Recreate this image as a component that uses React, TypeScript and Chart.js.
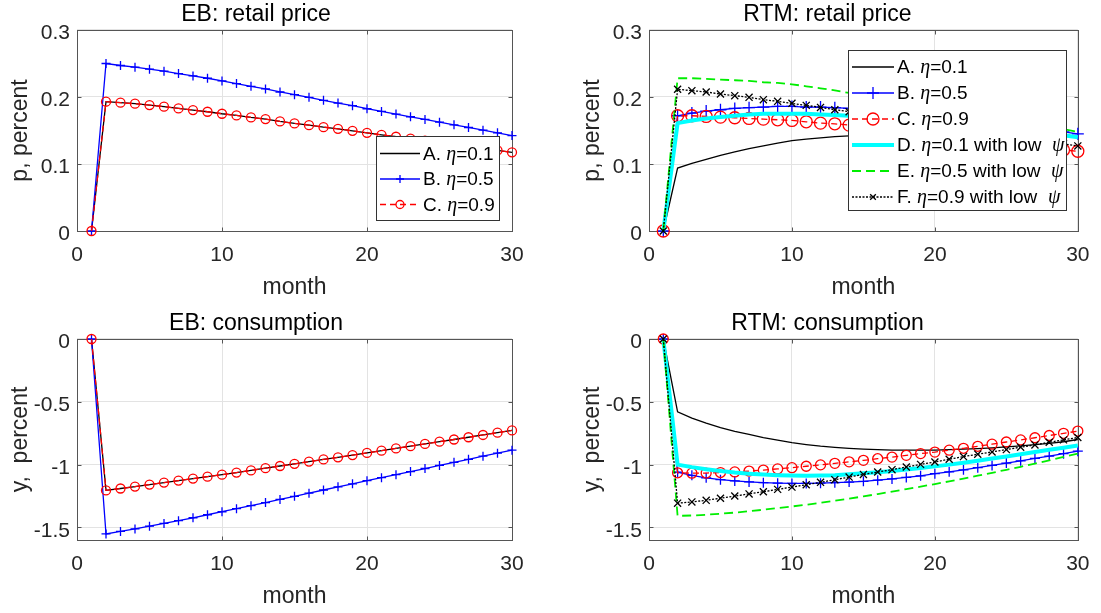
import React, { useEffect, useRef } from "react";
import { Chart, registerables } from "chart.js";

Chart.register(...registerables);

const FONT = "'Liberation Sans', Arial, Helvetica, sans-serif";
const SERIF = "'Liberation Serif', 'Times New Roman', serif";

// ---------------- data ----------------
const months = [1, 2, 3, 4, 5, 6, 7, 8, 9, 10, 11, 12, 13, 14, 15, 16, 17, 18, 19, 20, 21, 22, 23, 24, 25, 26, 27, 28, 29, 30];
const xTicks = [0, 10, 20, 30];
const priceTicks = [0, 0.1, 0.2, 0.3];
const consTicks = [-1.5, -1, -0.5, 0];

const ebLegend = ["A. η=0.1", "B. η=0.5", "C. η=0.9"];
const rtmLegend = [
  "A. η=0.1",
  "B. η=0.5",
  "C. η=0.9",
  "D. η=0.1 with low  ψ",
  "E. η=0.5 with low  ψ",
  "F. η=0.9 with low  ψ",
];

// EB: retail price
const ebPriceA = [0, 0.193, 0.1915, 0.19, 0.188, 0.1855, 0.183, 0.1805, 0.178, 0.175, 0.1725, 0.1695, 0.167, 0.1635, 0.1605, 0.158, 0.155, 0.1525, 0.1495, 0.1465, 0.1436, 0.1407, 0.1378, 0.1349, 0.132, 0.1291, 0.1262, 0.1233, 0.1204, 0.1175];
const ebPriceB = [0, 0.25, 0.247, 0.2445, 0.2415, 0.2385, 0.235, 0.2315, 0.228, 0.224, 0.22, 0.216, 0.212, 0.2075, 0.2035, 0.1995, 0.195, 0.191, 0.187, 0.1825, 0.1785, 0.1745, 0.1705, 0.1665, 0.1625, 0.1585, 0.1545, 0.1505, 0.1465, 0.1425];
const ebPriceC = [0, 0.193, 0.1915, 0.19, 0.188, 0.1855, 0.183, 0.1805, 0.178, 0.175, 0.1725, 0.1695, 0.167, 0.1635, 0.1605, 0.158, 0.155, 0.1525, 0.1495, 0.1465, 0.1436, 0.1407, 0.1378, 0.1349, 0.132, 0.1291, 0.1262, 0.1233, 0.1204, 0.1175];

// RTM: retail price
const rtmPriceA = [0, 0.094, 0.101, 0.107, 0.113, 0.118, 0.123, 0.127, 0.131, 0.135, 0.137, 0.139, 0.141, 0.142, 0.143, 0.144, 0.145, 0.145, 0.146, 0.146, 0.146, 0.146, 0.146, 0.145, 0.145, 0.144, 0.144, 0.143, 0.142, 0.141];
const rtmPriceB = [0, 0.172, 0.176, 0.179, 0.181, 0.183, 0.184, 0.185, 0.186, 0.186, 0.185, 0.185, 0.184, 0.183, 0.181, 0.18, 0.178, 0.176, 0.174, 0.172, 0.17, 0.167, 0.165, 0.162, 0.159, 0.157, 0.154, 0.151, 0.148, 0.145];
const rtmPriceC = [0, 0.172, 0.172, 0.171, 0.17, 0.169, 0.168, 0.167, 0.166, 0.165, 0.163, 0.161, 0.16, 0.158, 0.156, 0.153, 0.151, 0.148, 0.146, 0.143, 0.141, 0.138, 0.136, 0.133, 0.131, 0.128, 0.126, 0.124, 0.121, 0.119];
const rtmPriceD = [0, 0.161, 0.165, 0.168, 0.17, 0.172, 0.174, 0.175, 0.175, 0.175, 0.175, 0.174, 0.173, 0.172, 0.17, 0.169, 0.167, 0.166, 0.164, 0.162, 0.16, 0.158, 0.156, 0.154, 0.152, 0.15, 0.148, 0.146, 0.143, 0.14];
const rtmPriceE = [0, 0.228, 0.228, 0.227, 0.226, 0.225, 0.224, 0.222, 0.221, 0.219, 0.216, 0.213, 0.21, 0.206, 0.203, 0.2, 0.197, 0.194, 0.191, 0.188, 0.184, 0.181, 0.177, 0.173, 0.169, 0.165, 0.161, 0.157, 0.152, 0.148];
const rtmPriceF = [0, 0.2115, 0.2095, 0.2075, 0.2045, 0.202, 0.1995, 0.196, 0.1935, 0.1905, 0.1875, 0.1845, 0.181, 0.178, 0.175, 0.172, 0.168, 0.165, 0.162, 0.159, 0.155, 0.152, 0.149, 0.146, 0.143, 0.14, 0.137, 0.134, 0.13, 0.127];

// EB: consumption
const ebConsA = [0, -1.205, -1.19, -1.175, -1.159, -1.143, -1.127, -1.111, -1.096, -1.08, -1.063, -1.046, -1.028, -1.011, -0.994, -0.976, -0.959, -0.942, -0.924, -0.907, -0.889, -0.871, -0.853, -0.835, -0.817, -0.8, -0.782, -0.764, -0.746, -0.728];
const ebConsB = [0, -1.552, -1.532, -1.512, -1.49, -1.468, -1.446, -1.423, -1.399, -1.375, -1.351, -1.327, -1.302, -1.277, -1.252, -1.227, -1.202, -1.177, -1.153, -1.128, -1.104, -1.08, -1.055, -1.031, -1.006, -0.982, -0.958, -0.933, -0.909, -0.885];
const ebConsC = [0, -1.205, -1.19, -1.175, -1.159, -1.143, -1.127, -1.111, -1.096, -1.08, -1.063, -1.046, -1.028, -1.011, -0.994, -0.976, -0.959, -0.942, -0.924, -0.907, -0.889, -0.871, -0.853, -0.835, -0.817, -0.8, -0.782, -0.764, -0.746, -0.728];

// RTM: consumption
const rtmConsA = [0, -0.58, -0.63, -0.67, -0.705, -0.735, -0.76, -0.785, -0.805, -0.825, -0.84, -0.853, -0.863, -0.871, -0.877, -0.881, -0.884, -0.885, -0.885, -0.884, -0.881, -0.877, -0.872, -0.866, -0.858, -0.85, -0.841, -0.831, -0.818, -0.8];
const rtmConsB = [0, -1.06, -1.085, -1.105, -1.12, -1.13, -1.138, -1.144, -1.148, -1.15, -1.15, -1.148, -1.144, -1.139, -1.133, -1.124, -1.114, -1.102, -1.089, -1.072, -1.057, -1.041, -1.024, -1.006, -0.988, -0.97, -0.951, -0.932, -0.913, -0.893];
const rtmConsC = [0, -1.065, -1.068, -1.067, -1.063, -1.058, -1.051, -1.043, -1.034, -1.024, -1.013, -1.002, -0.99, -0.978, -0.966, -0.953, -0.94, -0.926, -0.912, -0.9, -0.885, -0.87, -0.854, -0.837, -0.82, -0.803, -0.786, -0.768, -0.751, -0.733];
const rtmConsD = [0, -1.0, -1.02, -1.037, -1.051, -1.063, -1.072, -1.079, -1.084, -1.087, -1.088, -1.087, -1.084, -1.077, -1.069, -1.06, -1.05, -1.039, -1.027, -1.014, -1.0, -0.985, -0.969, -0.952, -0.935, -0.918, -0.9, -0.882, -0.865, -0.848];
const rtmConsE = [0, -1.408, -1.405, -1.399, -1.391, -1.382, -1.371, -1.359, -1.346, -1.333, -1.319, -1.304, -1.288, -1.271, -1.253, -1.234, -1.215, -1.195, -1.175, -1.155, -1.133, -1.111, -1.088, -1.065, -1.041, -1.017, -0.992, -0.966, -0.939, -0.912];
const rtmConsF = [0, -1.307, -1.297, -1.284, -1.268, -1.25, -1.233, -1.216, -1.197, -1.179, -1.16, -1.141, -1.12, -1.099, -1.078, -1.059, -1.04, -1.019, -0.998, -0.979, -0.957, -0.936, -0.917, -0.899, -0.88, -0.861, -0.843, -0.822, -0.803, -0.784];

// ---------------- styles ----------------
type MarkerKind = "none" | "cross" | "circle" | "crossRot";
interface SeriesStyle {
  color: string;
  width: number;
  dash: number[];
  marker: MarkerKind;
}

const styleA: SeriesStyle = { color: "#000000", width: 1.3, dash: [], marker: "none" };
const styleB: SeriesStyle = { color: "#0000ff", width: 1.3, dash: [], marker: "cross" };
const styleC: SeriesStyle = { color: "#ff0000", width: 1.3, dash: [6, 4], marker: "circle" };
const styleD: SeriesStyle = { color: "#00ffff", width: 4, dash: [], marker: "none" };
const styleE: SeriesStyle = { color: "#00ee00", width: 1.8, dash: [9, 5], marker: "none" };
const styleF: SeriesStyle = { color: "#000000", width: 1.3, dash: [2, 1.5], marker: "crossRot" };

const AXIS_COLOR = "#555555";
const GRID_COLOR = "#e3e3e3";
const TEXT_COLOR = "#262626";
const MARKER_LW = 1.3;

interface LegendSpec {
  labels: string[];
  w: number;
  h: number;
  right: number;
  top?: number;
  bottom?: number;
  sx0: number;
  sx1: number;
  tx: number;
  first: number;
  step: number;
  radii: number[];
}

interface PanelSpec {
  left: number;
  top: number;
  w: number;
  h: number;
  padRight: number;
  title: string;
  yTitle: string;
  yMin: number;
  yMax: number;
  yTicks: number[];
  series: number[][];
  styles: SeriesStyle[];
  radii: number[];
  legend?: LegendSpec;
}

function drawMarker(ctx: CanvasRenderingContext2D, kind: MarkerKind, x: number, y: number, r: number, color: string) {
  if (kind === "none" || r <= 0) return;
  ctx.save();
  ctx.setLineDash([]);
  ctx.strokeStyle = color;
  ctx.lineWidth = MARKER_LW;
  ctx.beginPath();
  if (kind === "cross") {
    ctx.moveTo(x - r, y);
    ctx.lineTo(x + r, y);
    ctx.moveTo(x, y - r);
    ctx.lineTo(x, y + r);
  } else if (kind === "crossRot") {
    const d = r * Math.SQRT1_2;
    ctx.moveTo(x - d, y - d);
    ctx.lineTo(x + d, y + d);
    ctx.moveTo(x - d, y + d);
    ctx.lineTo(x + d, y - d);
  } else {
    ctx.arc(x, y, r, 0, Math.PI * 2);
  }
  ctx.stroke();
  ctx.restore();
}

function drawRichText(ctx: CanvasRenderingContext2D, text: string, x: number, y: number, size: number) {
  const runs: { t: string; greek: boolean }[] = [];
  for (const ch of Array.from(text)) {
    const greek = ch === "η" || ch === "ψ";
    const last = runs[runs.length - 1];
    if (last && last.greek === greek) last.t += ch;
    else runs.push({ t: ch, greek });
  }
  let cx = x;
  for (const run of runs) {
    ctx.font = run.greek ? `italic ${size + 1}px ${SERIF}` : `${size}px ${FONT}`;
    ctx.fillText(run.t, cx, y);
    cx += ctx.measureText(run.t).width;
  }
}

const boxPlugin = {
  id: "matlabBox",
  beforeDatasetsDraw(chart: any) {
    const { ctx, chartArea: a, scales } = chart;
    const L = Math.round(a.left) + 0.5;
    const R = Math.round(a.right) + 0.5;
    const T = Math.round(a.top) + 0.5;
    const B = Math.round(a.bottom) + 0.5;
    ctx.save();
    ctx.strokeStyle = AXIS_COLOR;
    ctx.lineWidth = 1;
    ctx.setLineDash([]);
    ctx.strokeRect(L, T, R - L, B - T);
    const tl = 4;
    ctx.beginPath();
    for (const v of xTicks) {
      const px = Math.round(scales.x.getPixelForValue(v)) + 0.5;
      ctx.moveTo(px, B);
      ctx.lineTo(px, B - tl);
      ctx.moveTo(px, T);
      ctx.lineTo(px, T + tl);
    }
    const yt: number[] = chart.options.plugins.matlabBox?.yTicks || [];
    for (const v of yt) {
      const py = Math.round(scales.y.getPixelForValue(v)) + 0.5;
      ctx.moveTo(L, py);
      ctx.lineTo(L + tl, py);
      ctx.moveTo(R, py);
      ctx.lineTo(R - tl, py);
    }
    ctx.stroke();
    ctx.restore();
  },
};

function makeLegendPlugin(spec: PanelSpec) {
  return {
    id: "matlabLegend",
    afterDatasetsDraw(chart: any) {
      const lg = spec.legend;
      if (!lg) return;
      const { ctx, chartArea: a } = chart;
      const x0 = Math.round(a.right - lg.right - lg.w);
      const y0 = lg.top !== undefined ? Math.round(a.top + lg.top) : Math.round(a.bottom - (lg.bottom || 0) - lg.h);
      ctx.save();
      ctx.fillStyle = "#ffffff";
      ctx.fillRect(x0, y0, lg.w, lg.h);
      ctx.strokeStyle = "#333333";
      ctx.lineWidth = 1;
      ctx.setLineDash([]);
      ctx.strokeRect(x0 + 0.5, y0 + 0.5, lg.w - 1, lg.h - 1);
      lg.labels.forEach((label, i) => {
        const st = spec.styles[i];
        const cy = y0 + lg.first + i * lg.step;
        ctx.save();
        ctx.strokeStyle = st.color;
        ctx.lineWidth = st.width;
        ctx.setLineDash(st.dash);
        ctx.beginPath();
        ctx.moveTo(x0 + lg.sx0, cy);
        ctx.lineTo(x0 + lg.sx1, cy);
        ctx.stroke();
        ctx.restore();
        drawMarker(ctx, st.marker, x0 + (lg.sx0 + lg.sx1) / 2, cy, lg.radii[i], st.color);
        ctx.fillStyle = "#000000";
        ctx.textBaseline = "middle";
        ctx.textAlign = "left";
        drawRichText(ctx, label, x0 + lg.tx, cy + 1, 19);
      });
      ctx.restore();
    },
  };
}

function buildConfig(spec: PanelSpec): any {
  const n = spec.series.length;
  const datasets = spec.series.map((vals, i) => {
    const st = spec.styles[i];
    const r = st.marker === "none" ? 0 : spec.radii[i];
    return {
      label: spec.legend ? spec.legend.labels[i] : String(i),
      data: months.map((m, k) => ({ x: m, y: vals[k] })),
      borderColor: st.color,
      backgroundColor: st.color,
      borderWidth: st.width,
      borderDash: st.dash,
      pointStyle: st.marker === "none" ? "circle" : st.marker,
      pointRadius: r,
      pointHoverRadius: r,
      pointBorderColor: st.color,
      pointBackgroundColor: "rgba(0,0,0,0)",
      pointBorderWidth: MARKER_LW,
      tension: 0,
      fill: false,
      clip: false,
      order: n - i,
    };
  });
  return {
    type: "line",
    data: { datasets },
    options: {
      responsive: false,
      animation: false,
      devicePixelRatio: 1,
      events: [],
      layout: { padding: { left: 0, right: spec.padRight, top: 0, bottom: 0 } },
      plugins: {
        legend: { display: false },
        tooltip: { enabled: false },
        matlabBox: { yTicks: spec.yTicks },
        title: {
          display: true,
          text: spec.title,
          color: "#000000",
          font: { family: FONT, size: 23, weight: "normal", lineHeight: 1.2 },
          padding: { top: 1, bottom: 1.4 },
        },
      },
      scales: {
        x: {
          type: "linear",
          min: 0,
          max: 30,
          afterBuildTicks: (s: any) => {
            s.ticks = xTicks.map((v) => ({ value: v }));
          },
          afterFit: (s: any) => {
            s.height = 73;
          },
          ticks: {
            callback: (v: any) => String(v),
            font: { family: FONT, size: 21 },
            color: TEXT_COLOR,
            padding: 11.5,
            maxRotation: 0,
            autoSkip: false,
          },
          grid: { color: GRID_COLOR, drawTicks: false, lineWidth: 1 },
          border: { display: false },
          title: {
            display: true,
            text: "month",
            color: TEXT_COLOR,
            font: { family: FONT, size: 23, lineHeight: 1.2 },
            padding: { top: 0, bottom: 2.5 },
          },
        },
        y: {
          type: "linear",
          min: spec.yMin,
          max: spec.yMax,
          afterBuildTicks: (s: any) => {
            s.ticks = spec.yTicks.map((v) => ({ value: v }));
          },
          afterFit: (s: any) => {
            s.width = 77;
          },
          ticks: {
            callback: (v: any) => String(v),
            font: { family: FONT, size: 21 },
            color: TEXT_COLOR,
            padding: 7,
            labelOffset: 3.5,
            autoSkip: false,
          },
          grid: { color: GRID_COLOR, drawTicks: false, lineWidth: 1 },
          border: { display: false },
          title: {
            display: true,
            text: spec.yTitle,
            color: TEXT_COLOR,
            font: { family: FONT, size: 23, lineHeight: 1.2 },
            padding: { top: 6.7, bottom: 0 },
          },
        },
      },
    },
    plugins: [boxPlugin, makeLegendPlugin(spec)],
  };
}

const panels: PanelSpec[] = [
  {
    left: 0,
    top: 0,
    w: 550,
    h: 304,
    padRight: 38,
    title: "EB: retail price",
    yTitle: "p, percent",
    yMin: 0,
    yMax: 0.3,
    yTicks: priceTicks,
    series: [ebPriceA, ebPriceB, ebPriceC],
    styles: [styleA, styleB, styleC],
    radii: [0, 4.5, 4.5],
    legend: { labels: ebLegend, w: 124, h: 85, right: 12, bottom: 10, sx0: 4, sx1: 44, tx: 47, first: 17.5, step: 25.5, radii: [0, 4, 4] },
  },
  {
    left: 572,
    top: 0,
    w: 529,
    h: 304,
    padRight: 18,
    title: "RTM: retail price",
    yTitle: "p, percent",
    yMin: 0,
    yMax: 0.3,
    yTicks: priceTicks,
    series: [rtmPriceA, rtmPriceB, rtmPriceC, rtmPriceD, rtmPriceE, rtmPriceF],
    styles: [styleA, styleB, styleC, styleD, styleE, styleF],
    radii: [0, 6, 6, 0, 0, 5],
    legend: { labels: rtmLegend, w: 219, h: 161, right: 11, top: 20, sx0: 4, sx1: 46, tx: 49, first: 17, step: 26, radii: [0, 6, 6, 0, 0, 4] },
  },
  {
    left: 0,
    top: 309,
    w: 550,
    h: 304,
    padRight: 38,
    title: "EB: consumption",
    yTitle: "y,  percent",
    yMin: -1.6,
    yMax: 0,
    yTicks: consTicks,
    series: [ebConsA, ebConsB, ebConsC],
    styles: [styleA, styleB, styleC],
    radii: [0, 4.5, 4.5],
  },
  {
    left: 572,
    top: 309,
    w: 529,
    h: 304,
    padRight: 18,
    title: "RTM: consumption",
    yTitle: "y,  percent",
    yMin: -1.6,
    yMax: 0,
    yTicks: consTicks,
    series: [rtmConsA, rtmConsB, rtmConsC, rtmConsD, rtmConsE, rtmConsF],
    styles: [styleA, styleB, styleC, styleD, styleE, styleF],
    radii: [0, 5, 5, 0, 0, 5],
  },
];

function Panel({ spec }: { spec: PanelSpec }) {
  const ref = useRef<HTMLCanvasElement>(null);
  useEffect(() => {
    if (!ref.current) return;
    const chart = new Chart(ref.current, buildConfig(spec));
    return () => chart.destroy();
  }, [spec]);
  return (
    <canvas
      ref={ref}
      width={spec.w}
      height={spec.h}
      style={{ position: "absolute", left: spec.left, top: spec.top, width: spec.w, height: spec.h }}
    />
  );
}

export default function App() {
  return (
    <div
      style={{
        position: "absolute",
        left: 0,
        top: 0,
        width: 1101,
        height: 613,
        background: "#ffffff",
        overflow: "hidden",
      }}
    >
      {panels.map((p, i) => (
        <Panel key={i} spec={p} />
      ))}
    </div>
  );
}
